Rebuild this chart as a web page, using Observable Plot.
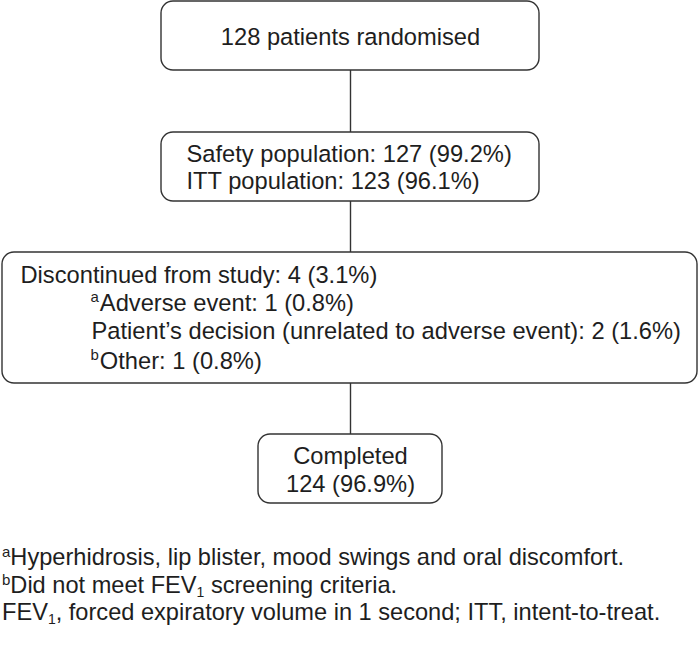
<!DOCTYPE html>
<html><head><meta charset="utf-8">
<script src="https://cdn.jsdelivr.net/npm/d3@7"></script>
<script src="https://cdn.jsdelivr.net/npm/@observablehq/plot@0.6"></script>
<style>
body{margin:0;background:#fff;font-family:"Liberation Sans",Arial,Helvetica,sans-serif;color:#1e1e1e}
#chart svg{display:block}
#notes{padding:4px 0 0 2px;font-size:23.6px;line-height:27.5px;margin:0;white-space:nowrap}
#notes sup{font-size:15px;line-height:0;vertical-align:8px}
#notes sub{font-size:14px;line-height:0;vertical-align:-4px}
</style></head><body><div id="chart"></div><div id="notes"></div>
<script>
// ---- content ----
const boxLabels = [
  ["128 patients randomised"],
  ["Safety population: 127 (99.2%)", "ITT population: 123 (96.1%)"],
  ["Discontinued from study: 4 (3.1%)", "{a}Adverse event: 1 (0.8%)",
   "Patient\u2019s decision (unrelated to adverse event): 2 (1.6%)", "{b}Other: 1 (0.8%)"],
  ["Completed", "124 (96.9%)"]
];
const footnotes = [
  "{a}Hyperhidrosis, lip blister, mood swings and oral discomfort.",
  "{b}Did not meet FEV{_1} screening criteria.",
  "FEV{_1}, forced expiratory volume in 1 second; ITT, intent-to-treat."
];

// ---- layout (pixel space of the diagram) ----
const layout = [
  {x1:161, x2:539, y1:1,   y2:70,  anchor:"middle", tx:350, ty:[37]},
  {x1:161, x2:539, y1:132, y2:201, anchor:"start",  tx:186, ty:[154,181]},
  {x1:2,   x2:697, y1:252, y2:383, anchor:"start",  tx:20,  ty:[275,303,331,361], indent:[0,70,71,70]},
  {x1:258, x2:442, y1:434, y2:503, anchor:"middle", tx:350, ty:[456,484]}
];
const W = 700, H = 540, FS = 23.7;

const boxes = layout.map((l, i) => ({...l, i}));
const links = boxes.slice(0, -1).map((b, i) => ({x: 350, y1: b.y2, y2: boxes[i + 1].y1}));
const rows = [];
boxLabels.forEach((lines, i) => {
  const l = layout[i];
  lines.forEach((t, j) => rows.push({
    text: t, x: l.tx + (l.indent ? l.indent[j] : 0), y: l.ty[j], anchor: l.anchor
  }));
});

const plot = Plot.plot({
  width: W, height: H,
  margin: 0,
  x: {domain: [0, W], range: [0, W], axis: null},
  y: {domain: [0, H], range: [0, H], axis: null},
  style: {fontFamily: "'Liberation Sans', Arial, Helvetica, sans-serif", background: "white"},
  marks: [
    Plot.ruleX(links, {x: "x", y1: "y1", y2: "y2", stroke: "#333", strokeWidth: 1.4}),
    Plot.rect(boxes, {x1: "x1", x2: "x2", y1: "y1", y2: "y2", rx: 12, fill: "white", stroke: "#333", strokeWidth: 1.4}),
    Plot.text(rows.filter(r => r.anchor === "start"), {x: "x", y: "y", text: "text", textAnchor: "start", fontSize: FS, fill: "#1e1e1e"}),
    Plot.text(rows.filter(r => r.anchor === "middle"), {x: "x", y: "y", text: "text", textAnchor: "middle", fontSize: FS, fill: "#1e1e1e"})
  ]
});
document.getElementById("chart").appendChild(plot);

// superscript markers inside svg text
const NS = "http://www.w3.org/2000/svg";
plot.querySelectorAll("text").forEach(t => {
  const m = /^\{(\w)\}(.*)$/.exec(t.textContent);
  if (!m) return;
  t.textContent = "";
  const s = document.createElementNS(NS, "tspan");
  s.setAttribute("font-size", "15"); s.setAttribute("dy", "-9"); s.textContent = m[1];
  const r = document.createElementNS(NS, "tspan");
  r.setAttribute("dy", "9"); r.setAttribute("dx", "1"); r.textContent = m[2];
  t.appendChild(s); t.appendChild(r);
});

// footnotes
const notes = document.getElementById("notes");
footnotes.forEach(f => {
  const d = document.createElement("div");
  d.innerHTML = f.replace(/\{_(\w)\}/g, "<sub>$1</sub>").replace(/\{(\w)\}/g, "<sup>$1</sup>");
  notes.appendChild(d);
});
</script></body></html>
